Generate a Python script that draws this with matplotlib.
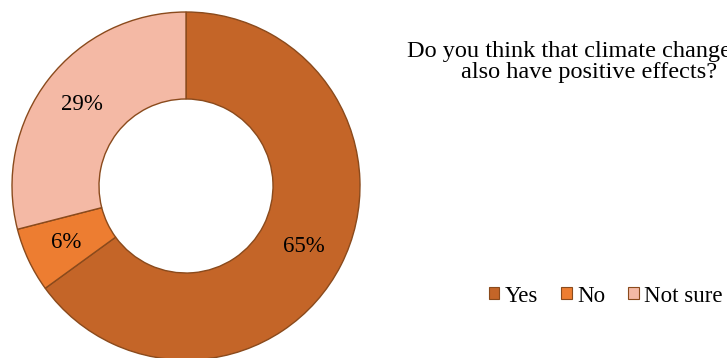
import matplotlib.pyplot as plt
from matplotlib.patches import Patch

# Survey answers (share of respondents, %)
labels = ["Yes", "No", "Not sure"]
shares = [65, 6, 29]
colors = ["#C46528", "#ED7D31", "#F4B9A5"]
edge = "#8A4A1C"

title = "Do you think that climate change can\nalso have positive effects?"

plt.rcParams['font.family'] = ['Liberation Serif', 'DejaVu Serif']

W, H = 727, 358
fig = plt.figure(figsize=(W / 100, H / 100), dpi=100)

# pie axes: center at (186, 186) px from top-left, radius ~174 px
r = 174
cx, cy = 186, H - 186
ax = fig.add_axes([(cx - r) / W, (cy - r) / H, 2 * r / W, 2 * r / H])

wedges, texts, autotexts = ax.pie(
    shares, colors=colors, startangle=90, counterclock=False,
    autopct=lambda p: "%d%%" % round(p), pctdistance=0.76,
    wedgeprops=dict(width=0.5, edgecolor=edge, linewidth=1.0),
    textprops=dict(fontsize=16.5, color="black"))
ax.set_xlim(-1, 1)
ax.set_ylim(-1, 1)
ax.set_aspect("equal")
ax.axis("off")

# title sits at the right edge, cut off there as in the source picture
fig.text(589 / W, 1 - 62 / H, title, ha="center", va="center",
         fontsize=17.5, linespacing=1.05)

handles = [Patch(facecolor=c, edgecolor=edge, linewidth=0.8) for c in colors]
fig.legend(handles, labels, loc="center", bbox_to_anchor=(606 / W, 1 - 296 / H),
           ncol=3, frameon=False, fontsize=16.5, handlelength=0.45, handleheight=0.45,
           handletextpad=0.25, columnspacing=1.0)

fig.savefig("out.png", dpi=100)
